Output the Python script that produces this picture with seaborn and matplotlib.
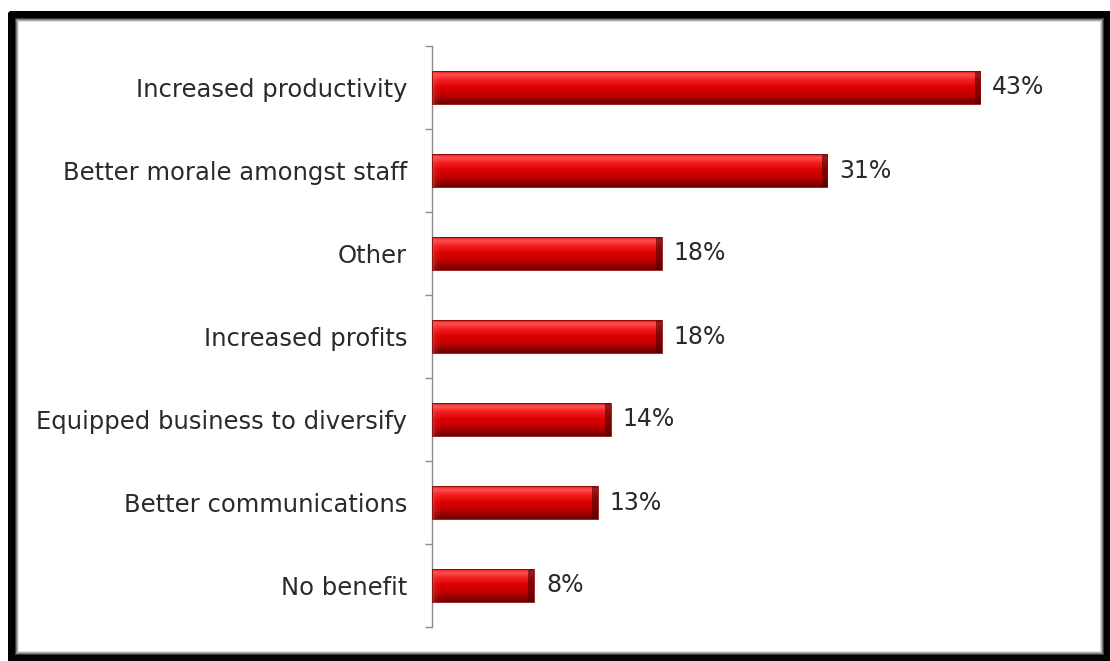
import numpy as np
import pandas as pd
import matplotlib
matplotlib.use("Agg")
import matplotlib.pyplot as plt
from matplotlib.patches import Rectangle
from matplotlib.lines import Line2D
from matplotlib.colors import LinearSegmentedColormap
import seaborn as sns

# Survey results: benefits reported
categories = [
    "Increased productivity",
    "Better morale amongst staff",
    "Other",
    "Increased profits",
    "Equipped business to diversify",
    "Better communications",
    "No benefit",
]
values = [43, 31, 18, 18, 14, 13, 8]
value_labels = ["43%", "31%", "18%", "18%", "14%", "13%", "8%"]

df = pd.DataFrame({"benefit": categories, "share": values})

sns.set_theme(style="white")
plt.rcParams["font.family"] = ["DejaVu Sans"]

W, H = 1110, 661
fig = plt.figure(figsize=(W / 100, H / 100), dpi=100)
fig.patch.set_facecolor("white")

# Plot area in pixel terms
ax_left, ax_right, ax_top, ax_bottom = 432, 1050, 46, 627
ax = fig.add_axes([ax_left / W, 1 - ax_bottom / H,
                   (ax_right - ax_left) / W, (ax_bottom - ax_top) / H])
ax.set_facecolor("white")

sns.barplot(data=df, y="benefit", x="share", orient="h", ax=ax,
            color="#cc0000", width=0.40, saturation=1, edgecolor="#8a0000",
            linewidth=0.6)

px_per_unit = 12.75
ax.set_xlim(0, (ax_right - ax_left) / px_per_unit)
ax.set_ylim(len(categories) - 0.5, -0.5)

# Cylinder-style shading on every bar
shade = LinearSegmentedColormap.from_list(
    "tube", [(0.0, "#c01010"), (0.12, "#ff5050"), (0.28, "#f42020"),
             (0.5, "#dc0000"), (0.72, "#c20000"), (0.88, "#940000"),
             (1.0, "#6a0000")])
grad = np.linspace(0, 1, 64).reshape(-1, 1)
for patch in list(ax.patches):
    x0, y0 = patch.get_x(), patch.get_y()
    w, h = patch.get_width(), patch.get_height()
    im = ax.imshow(grad, cmap=shade, aspect="auto",
                   extent=(x0, x0 + w, y0 + h, y0), zorder=2.5,
                   interpolation="bicubic")
    im.set_clip_path(patch)
    # soft light bevel on the near end, dark bevel on the far end
    for j, a in enumerate([0.22, 0.14, 0.07]):
        lcap = Rectangle((x0 + j * 0.2, y0), 0.2, h, facecolor="#ff7070",
                         alpha=a, edgecolor="none", zorder=2.6)
        ax.add_patch(lcap)
        lcap.set_clip_path(patch)
    cap = Rectangle((x0 + w - 0.45, y0), 0.45, h, facecolor="#4a0000",
                    alpha=0.6, edgecolor="none", zorder=2.6)
    ax.add_patch(cap)
    cap.set_clip_path(patch)
    patch.set_zorder(2.7)
    patch.set_facecolor("none")

# Percentage labels at the end of each bar
for i, (v, lab) in enumerate(zip(values, value_labels)):
    ax.text(v + 0.95, i, lab, va="center", ha="left", fontsize=17,
            color="#2a2a2a")

# Axes styling
for s in ["top", "right", "bottom"]:
    ax.spines[s].set_visible(False)
ax.spines["left"].set_color("#8c8c8c")
ax.spines["left"].set_linewidth(1.0)
ax.set_xticks([])
ax.set_xlabel("")
ax.set_ylabel("")
ax.set_yticks(range(len(categories)))
ax.set_yticklabels(categories, fontsize=17.5, color="#2a2a2a")
ax.tick_params(axis="y", which="major", length=0, pad=18)
ax.set_yticks(np.arange(-0.5, len(categories), 1.0), minor=True)
ax.tick_params(axis="y", which="minor", length=5, width=1.0,
               color="#8c8c8c", direction="out", left=True)

# Black frame with a soft inner shadow
def frame_rect(x0, y0, x1, y1, color, lw_px):
    pts = [(x0, y0), (x1, y0), (x1, y1), (x0, y1), (x0, y0)]
    xs = [p[0] / W for p in pts]
    ys = [1 - p[1] / H for p in pts]
    fig.add_artist(Line2D(xs, ys, transform=fig.transFigure,
                          color=color, linewidth=lw_px * 0.72,
                          solid_joinstyle="miter"))

frame_rect(10.5, 13.5, 1106.5, 657.5, "#000000", 7)
for k, c in enumerate(["#3a3a3a", "#7a7a7a", "#b0b0b0", "#dedede"]):
    off = 14.5 + k
    frame_rect(off, off + 3, 1102.5 - k, 653.5 - k, c, 1)

fig.savefig("out.png", dpi=100, facecolor="white")
